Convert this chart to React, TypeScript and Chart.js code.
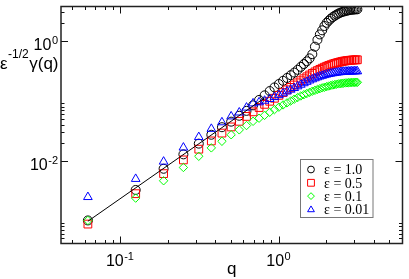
import React, { useEffect, useRef } from "react";
import { Chart, registerables } from "chart.js";

Chart.register(...registerables);

// q values (x)
const qValues = [
  0.0628, 0.1257, 0.1885, 0.2513, 0.3142, 0.377, 0.4398, 0.5027, 0.5655, 0.6283,
  0.6912, 0.754, 0.8168, 0.8796, 0.9425, 1.0053, 1.0681, 1.131, 1.1938, 1.2566,
  1.3195, 1.3823, 1.4451, 1.508, 1.5708, 1.6336, 1.6965, 1.7593, 1.8221, 1.885,
  1.9478, 2.0106, 2.0735, 2.1363, 2.1991, 2.2619, 2.3248, 2.3876, 2.4504, 2.5133,
  2.5761, 2.6389, 2.7018, 2.7646, 2.8274, 2.8903, 2.9531, 3.0159, 3.0788, 3.1416,
];

// eps = 1.0 (black circles)
const eps10 = [
  0.001, 0.00323, 0.0073, 0.0127, 0.0192, 0.027, 0.0361, 0.0447, 0.0561, 0.0677,
  0.0838, 0.103, 0.123, 0.145, 0.167, 0.19, 0.215, 0.24, 0.267, 0.295,
  0.328, 0.368, 0.41, 0.455, 0.51, 0.6, 0.8, 1.04, 1.28, 1.5,
  1.77, 2.0, 2.18, 2.35, 2.5, 2.63, 2.75, 2.86, 2.95, 3.03,
  3.09, 3.15, 3.2, 3.24, 3.28, 3.31, 3.33, 3.35, 3.36, 3.37,
];

// eps = 0.5 (red squares)
const eps05 = [
  0.00087, 0.0028, 0.00605, 0.01026, 0.0155, 0.0213, 0.0288, 0.0365, 0.0453, 0.0547,
  0.0652, 0.077, 0.087, 0.098, 0.11, 0.123, 0.137, 0.152, 0.167, 0.183,
  0.199, 0.216, 0.233, 0.251, 0.269, 0.286, 0.303, 0.319, 0.334, 0.349,
  0.363, 0.376, 0.388, 0.399, 0.41, 0.42, 0.429, 0.437, 0.445, 0.452,
  0.458, 0.463, 0.467, 0.471, 0.474, 0.477, 0.479, 0.481, 0.482, 0.483,
];

// eps = 0.1 (green diamonds)
const eps01 = [
  0.001, 0.00236, 0.0046, 0.00767, 0.0118, 0.0163, 0.021, 0.027, 0.0326, 0.0385,
  0.0453, 0.051, 0.057, 0.064, 0.071, 0.078, 0.085, 0.092, 0.099, 0.106,
  0.113, 0.12, 0.126, 0.132, 0.138, 0.144, 0.149, 0.154, 0.159, 0.164,
  0.168, 0.172, 0.176, 0.18, 0.183, 0.186, 0.189, 0.191, 0.193, 0.195,
  0.197, 0.198, 0.199, 0.2, 0.201, 0.202, 0.202, 0.203, 0.203, 0.203,
];

// eps = 0.01 (blue triangles)
const eps001 = [
  0.00246, 0.00494, 0.0096, 0.0165, 0.0247, 0.0339, 0.0436, 0.0547, 0.0636, 0.0768,
  0.0903, 0.094, 0.1, 0.107, 0.115, 0.124, 0.133, 0.143, 0.153, 0.163,
  0.174, 0.185, 0.196, 0.207, 0.218, 0.228, 0.237, 0.246, 0.254, 0.261,
  0.268, 0.274, 0.279, 0.284, 0.288, 0.292, 0.295, 0.298, 0.3, 0.302,
  0.304, 0.305, 0.306, 0.307, 0.308, 0.309, 0.309, 0.31, 0.31, 0.31,
];

// fitted power-law line
const lineQ = [0.0628, 0.82];
const lineY = [0.00097, 0.1125];

// axes
const xRange = [0.0425, 6.05];
const yRange = [0.000412, 3.75];
const xMajorTicks = [0.1, 1];
const xMajorExp = ["-1", "0"];
const xMinorTicks = [0.05, 0.06, 0.07, 0.08, 0.09, 0.2, 0.3, 0.4, 0.5, 0.6, 0.7, 0.8, 0.9, 2, 3, 4, 5, 6];
const yMajorTicks = [0.01, 1];
const yMajorExp = ["-2", "0"];
const yMinorTicks = [0.0005, 0.0006, 0.0007, 0.0008, 0.0009, 0.02, 0.03, 0.04, 0.05, 0.06, 0.07, 0.08, 0.09, 2, 3];

const legendLabels = ["ε = 1.0", "ε = 0.5", "ε = 0.1", "ε = 0.01"];
const seriesColors = ["#000000", "#ff0000", "#00ff00", "#0000ff"];
const seriesStyles = ["circle", "rect", "rectRot", "triangle"];
const seriesRadius = [4.5, 5.5, 4.2, 5];

const SANS = '"Liberation Sans", Arial, sans-serif';
const SERIF = '"Liberation Serif", "Times New Roman", serif';

function drawSymbol(ctx: CanvasRenderingContext2D, style: string, x: number, y: number, r: number) {
  ctx.beginPath();
  if (style === "circle") {
    ctx.arc(x, y, r, 0, Math.PI * 2);
  } else if (style === "rect") {
    ctx.rect(x - r, y - r, 2 * r, 2 * r);
  } else if (style === "rectRot") {
    ctx.moveTo(x, y - r);
    ctx.lineTo(x + r, y);
    ctx.lineTo(x, y + r);
    ctx.lineTo(x - r, y);
    ctx.closePath();
  } else {
    const h = r * 1.7;
    ctx.moveTo(x, y - h * 0.6);
    ctx.lineTo(x + r, y + h * 0.4);
    ctx.lineTo(x - r, y + h * 0.4);
    ctx.closePath();
  }
  ctx.stroke();
}

function drawPow(ctx: CanvasRenderingContext2D, exp: string, x0: number, baseline: number) {
  ctx.font = `16px ${SANS}`;
  const w1 = ctx.measureText("10").width;
  ctx.fillText("10", x0, baseline);
  ctx.font = `11px ${SANS}`;
  ctx.fillText(exp, x0 + w1 + 0.5, baseline - 6);
}

function powWidth(ctx: CanvasRenderingContext2D, exp: string) {
  ctx.font = `16px ${SANS}`;
  const w1 = ctx.measureText("10").width;
  ctx.font = `11px ${SANS}`;
  return w1 + 0.5 + ctx.measureText(exp).width;
}

const overlay = {
  id: "overlay",
  afterDraw(chart: any) {
    const { ctx, chartArea: a } = chart;
    const xs = chart.scales.x;
    const ys = chart.scales.y;
    ctx.save();
    ctx.strokeStyle = "#111";
    ctx.fillStyle = "#000";
    // ticks
    ctx.lineWidth = 1;
    const vt = (v: number, len: number) => {
      const px = Math.round(xs.getPixelForValue(v)) + 0.5;
      ctx.beginPath();
      ctx.moveTo(px, a.bottom);
      ctx.lineTo(px, a.bottom - len);
      ctx.moveTo(px, a.top);
      ctx.lineTo(px, a.top + len);
      ctx.stroke();
    };
    const ht = (v: number, len: number) => {
      const py = Math.round(ys.getPixelForValue(v)) + 0.5;
      ctx.beginPath();
      ctx.moveTo(a.left, py);
      ctx.lineTo(a.left + len, py);
      ctx.moveTo(a.right, py);
      ctx.lineTo(a.right - len, py);
      ctx.stroke();
    };
    xMajorTicks.forEach((v) => vt(v, 7));
    xMinorTicks.forEach((v) => vt(v, 3.5));
    yMajorTicks.forEach((v) => ht(v, 7));
    yMinorTicks.forEach((v) => ht(v, 3.5));
    // frame
    ctx.lineWidth = 1.5;
    ctx.strokeStyle = "#222";
    ctx.strokeRect(a.left, a.top, a.right - a.left, a.bottom - a.top);

    // tick labels
    ctx.textAlign = "left";
    ctx.textBaseline = "alphabetic";
    ctx.fillStyle = "#000";
    xMajorTicks.forEach((v, i) => {
      const px = xs.getPixelForValue(v);
      const w = powWidth(ctx, xMajorExp[i]);
      drawPow(ctx, xMajorExp[i], px - w / 2, a.bottom + 22);
    });
    yMajorTicks.forEach((v, i) => {
      const py = ys.getPixelForValue(v);
      const w = powWidth(ctx, yMajorExp[i]);
      drawPow(ctx, yMajorExp[i], a.left - 3 - w, py + 9.5);
    });

    // x title
    ctx.font = `17px ${SANS}`;
    ctx.textAlign = "center";
    ctx.fillText("q", (a.left + a.right) / 2, a.bottom + 30);

    // y title
    ctx.textAlign = "left";
    let tx = 0;
    const tb = 68.5;
    ctx.font = `17px ${SANS}`;
    ctx.fillText("ε", tx, tb);
    tx += ctx.measureText("ε").width + 0.5;
    ctx.font = `12px ${SANS}`;
    ctx.fillText("-1/2", tx, tb - 11);
    tx += ctx.measureText("-1/2").width + 0.5;
    ctx.font = `17px ${SANS}`;
    ctx.fillText("γ(q)", tx, tb);

    // legend
    const lx = 300.5, ly = 159.5, lw = 72.5, lh = 58;
    ctx.fillStyle = "#fff";
    ctx.fillRect(lx, ly, lw, lh);
    ctx.strokeStyle = "#777";
    ctx.lineWidth = 1;
    ctx.strokeRect(lx, ly, lw, lh);
    ctx.font = `14px ${SERIF}`;
    ctx.fillStyle = "#000";
    legendLabels.forEach((lab, i) => {
      const cy = ly + 10 + i * 13.3;
      ctx.strokeStyle = seriesColors[i];
      ctx.lineWidth = 1;
      drawSymbol(ctx, seriesStyles[i], 311, cy, 3.4);
      ctx.fillStyle = "#000";
      ctx.fillText(lab, 324, cy + 4.8);
    });
    ctx.restore();
  },
};

export default function App() {
  const ref = useRef<HTMLCanvasElement | null>(null);
  useEffect(() => {
    if (!ref.current) return;
    const series = [eps10, eps05, eps01, eps001];
    const datasets: any[] = series.map((vals, i) => ({
      label: legendLabels[i],
      data: qValues.map((q, j) => ({ x: q, y: vals[j] })),
      pointStyle: seriesStyles[i],
      pointRadius: seriesRadius[i],
      borderColor: seriesColors[i],
      backgroundColor: "rgba(0,0,0,0)",
      pointBorderWidth: 1,
      borderWidth: 1,
      showLine: false,
      order: 4 - i,
    }));
    datasets.push({
      label: "fit",
      data: lineQ.map((q, j) => ({ x: q, y: lineY[j] })),
      showLine: true,
      borderColor: "#000",
      borderWidth: 1,
      pointRadius: 0,
      fill: false,
      order: 0,
    });
    const chart = new Chart(ref.current, {
      type: "scatter",
      data: { datasets },
      options: {
        responsive: false,
        animation: false,
        devicePixelRatio: 1,
        layout: { padding: { left: 61, top: 2, right: 2, bottom: 35.5 } },
        plugins: { legend: { display: false }, tooltip: { enabled: false } },
        scales: {
          x: { type: "logarithmic", min: xRange[0], max: xRange[1], display: false },
          y: { type: "logarithmic", min: yRange[0], max: yRange[1], display: false },
        },
      },
      plugins: [overlay],
    });
    return () => chart.destroy();
  }, []);
  return (
    <div style={{ position: "fixed", left: 0, top: 0, width: 409, height: 279, background: "#fff" }}>
      <canvas ref={ref} width={409} height={279} />
    </div>
  );
}
